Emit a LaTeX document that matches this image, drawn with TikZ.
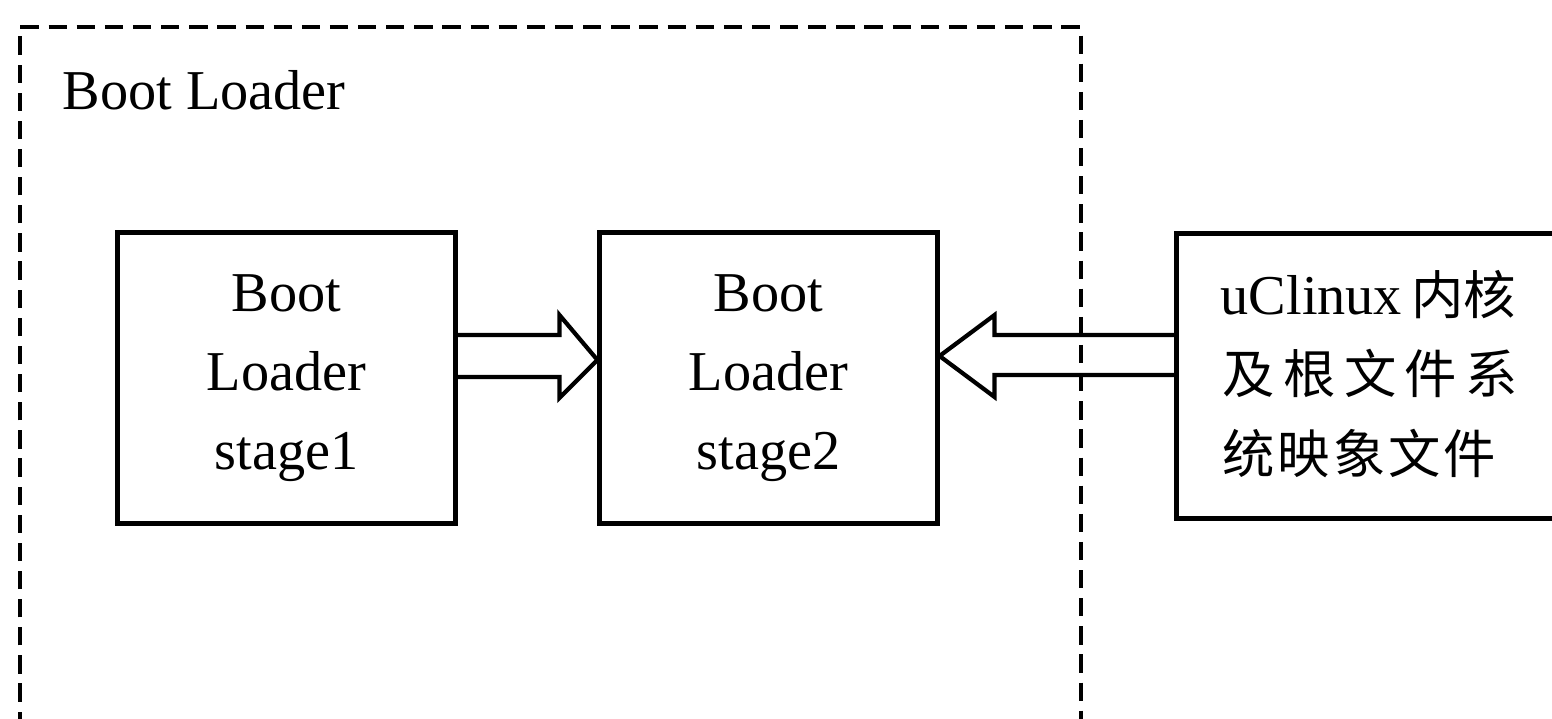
\documentclass[tikz,border=0pt]{standalone}
\usepackage{fontspec}
\setmainfont{Liberation Serif}
\newfontfamily\cjk{Noto Sans CJK SC}[Scale=0.93]
\usetikzlibrary{calc}
\tikzset{
  stagebox/.style={draw, line width=1.4pt, inner sep=0pt, align=center,
    minimum width=3.37cm, minimum height=2.9cm,
    font=\fontsize{16pt}{22.5pt}\selectfont},
  imagebox/.style={draw, line width=1.4pt, inner sep=0pt,
    minimum width=4.0cm, minimum height=2.84cm},
  groupframe/.style={line width=1.3pt, dash pattern=on 5.2pt off 2.8pt},
  hollowarrow/.style={line width=1.2pt, line join=miter},
  plaintext/.style={inner sep=0pt, font=\fontsize{16pt}{22.5pt}\selectfont},
}
\begin{document}
\begin{tikzpicture}[x=0.01cm, y=0.01cm]
  \useasboundingbox (0,0) rectangle (1552,718);
  \clip (0,0) rectangle (1552,718);
  \fill[white] (0,0) rectangle (1552,718);

  % dashed frame of the boot loader (open towards the bottom)
  \draw[groupframe] (20,-40) -- (20,691) -- (1081,691) -- (1081,-40);
  \node[plaintext, anchor=base west] (title) at (62,608) {Boot Loader};

  % the three boxes
  \node[stagebox] (b1) at (286.5,340) {Boot\\Loader\\stage1};
  \node[stagebox] (b2) at (768.5,340) {Boot\\Loader\\stage2};
  \node[imagebox] (b3) at (1377,342) {};

  \node[plaintext, anchor=base west] (l1) at (1220,403)
    {\makebox[2.95cm][s]{uClinux {\cjk 内核}}};
  \node[plaintext, anchor=base west] (l2) at (1222,324)
    {\makebox[2.95cm][s]{\cjk 及\hfil 根\hfil 文\hfil 件\hfil 系}};
  \node[plaintext, anchor=base west] (l3) at (1222,245)
    {\makebox[2.73cm][s]{\cjk 统\hfil 映\hfil 象\hfil 文\hfil 件}};

  % hollow arrow: stage1 -> stage2
  \draw[hollowarrow]
    ($(b1.east)+(0,43)$) -- ($(b2.west)+(-38,43)$) -- ($(b2.west)+(-38,63)$)
    -- ($(b2.west)+(0,18)$)
    -- ($(b2.west)+(-38,-20)$) -- ($(b2.west)+(-38,1)$) -- ($(b1.east)+(0,1)$);

  % hollow arrow: image file -> stage2
  \coordinate (s2top) at ($(b2.east)+(55,43)$);
  \coordinate (s2bot) at ($(b2.east)+(55,3)$);
  \draw[hollowarrow]
    (b3.west |- s2top) -- (s2top) -- ($(b2.east)+(55,63)$)
    -- ($(b2.east)+(0,22)$)
    -- ($(b2.east)+(55,-19)$) -- (s2bot) -- (b3.west |- s2bot);
\end{tikzpicture}
\end{document}
